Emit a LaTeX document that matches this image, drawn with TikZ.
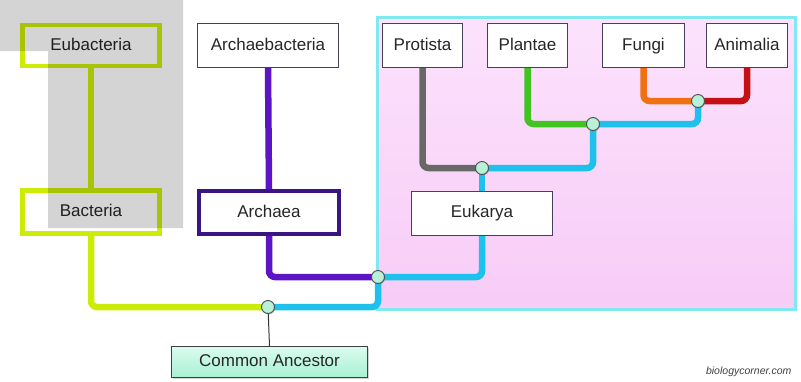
\documentclass[tikz,border=0pt]{standalone}
\usepackage{fontspec}
\setmainfont{Liberation Sans}
\usetikzlibrary{shadows}
\pgfdeclarelayer{bg}
\pgfsetlayers{bg,main}
\definecolor{limeC}{RGB}{204,236,8}
\definecolor{purpC}{RGB}{92,20,196}
\definecolor{indigoC}{RGB}{58,20,130}
\definecolor{blueC}{RGB}{30,192,236}
\definecolor{grayC}{RGB}{104,104,104}
\definecolor{greenC}{RGB}{64,196,32}
\definecolor{orangeC}{RGB}{240,112,20}
\definecolor{redC}{RGB}{196,16,20}
\definecolor{cyanB}{RGB}{128,232,240}
\definecolor{pinkT}{RGB}{252,226,252}
\definecolor{pinkB}{RGB}{247,204,247}
\definecolor{mintT}{RGB}{218,252,240}
\definecolor{mintB}{RGB}{168,240,210}
\definecolor{nodeF}{RGB}{184,240,216}
\definecolor{thinB}{RGB}{70,64,90}
\tikzset{
  box/.style={draw=thinB, line width=1pt, fill=white, rectangle, inner sep=0pt,
    font=\fontsize{17}{19}\selectfont, text=black!85, text height=12.5pt, text depth=3.5pt},
  branch/.style={line width=6.5pt, rounded corners=6pt, line cap=round},
  joint/.style={circle, draw=black!70, line width=0.9pt, fill=nodeF, minimum size=13pt, inner sep=0pt,
    drop shadow={shadow xshift=0.8pt, shadow yshift=-1pt, opacity=0.4}},
}
\begin{document}
\begin{tikzpicture}[x=1pt,y=-1pt]
\useasboundingbox (0,0) rectangle (801,381);
% joints
\node[joint] (n1) at (268,307) {};
\node[joint] (n2) at (378,277) {};
\node[joint] (n3) at (482,168) {};
\node[joint] (n4) at (593,124) {};
\node[joint] (n5) at (698,101) {};
% boxes
\node[box, draw=limeC, line width=4.5pt, minimum width=137pt, minimum height=41pt] (eub) at (91,45.5) {Eubacteria};
\node[box, minimum width=141pt, minimum height=44pt] (aeb) at (268,45.5) {Archaebacteria};
\node[box, draw=limeC, line width=5pt, minimum width=137pt, minimum height=43pt] (bac) at (91,212) {Bacteria};
\node[box, draw=indigoC, line width=4pt, minimum width=140pt, minimum height=43pt] (arc) at (269,212.5) {Archaea};
\node[box, minimum width=80pt, minimum height=44pt] (pro) at (422.5,45.5) {Protista};
\node[box, minimum width=80pt, minimum height=44pt] (pla) at (527.5,45.5) {Plantae};
\node[box, minimum width=82pt, minimum height=44pt] (fun) at (643.5,45.5) {Fungi};
\node[box, minimum width=81pt, minimum height=44pt] (ani) at (747,45.5) {Animalia};
\node[box, minimum width=141pt, minimum height=44pt] (euk) at (482,213) {Eukarya};
\node[box, draw=black!75, line width=1.2pt, top color=mintT, bottom color=mintB, minimum width=196pt, minimum height=31pt,
  drop shadow={shadow xshift=1.5pt, shadow yshift=-1.5pt, opacity=0.35}] (ca) at (269.5,362) {Common Ancestor};
% region and connectors (behind boxes and joints)
\begin{pgfonlayer}{bg}
\draw[draw=cyanB, line width=3pt, top color=pinkT, bottom color=pinkB] (377,17) rectangle (795,309);
\draw[branch, limeC] (eub.south) -- (bac.north);
\draw[branch, purpC] (aeb.south) -- (arc.north);
\draw[branch, limeC] (bac.south) |- (n1.center);
\draw[branch, purpC] (arc.south) |- (n2.center);
\draw[branch, blueC] (n1.center) -| (n2.center);
\draw[branch, blueC] (euk.south) |- (n2.center);
\draw[branch, blueC] (euk.north) -- (n3.center);
\draw[branch, grayC] (pro.south) |- (n3.center);
\draw[branch, blueC] (n3.center) -| (n4.center);
\draw[branch, greenC] (pla.south) |- (n4.center);
\draw[branch, blueC] (n4.center) -| (n5.center);
\draw[branch, orangeC] (fun.south) |- (n5.center);
\draw[branch, redC] (ani.south) |- (n5.center);
\draw[line width=1pt, black!80] (n1.center) -- (ca.north);
\end{pgfonlayer}
% watermark
\node[anchor=east, font=\itshape\fontsize{10.5}{12}\selectfont, text=black!75] (wm) at (795,372) {biologycorner.com};
% grey overlay
\fill[black, opacity=0.17] (0,0) -- (183,0) -- (183,228) -- (48,228) -- (48,51) -- (0,51) -- cycle;
\end{tikzpicture}
\end{document}
